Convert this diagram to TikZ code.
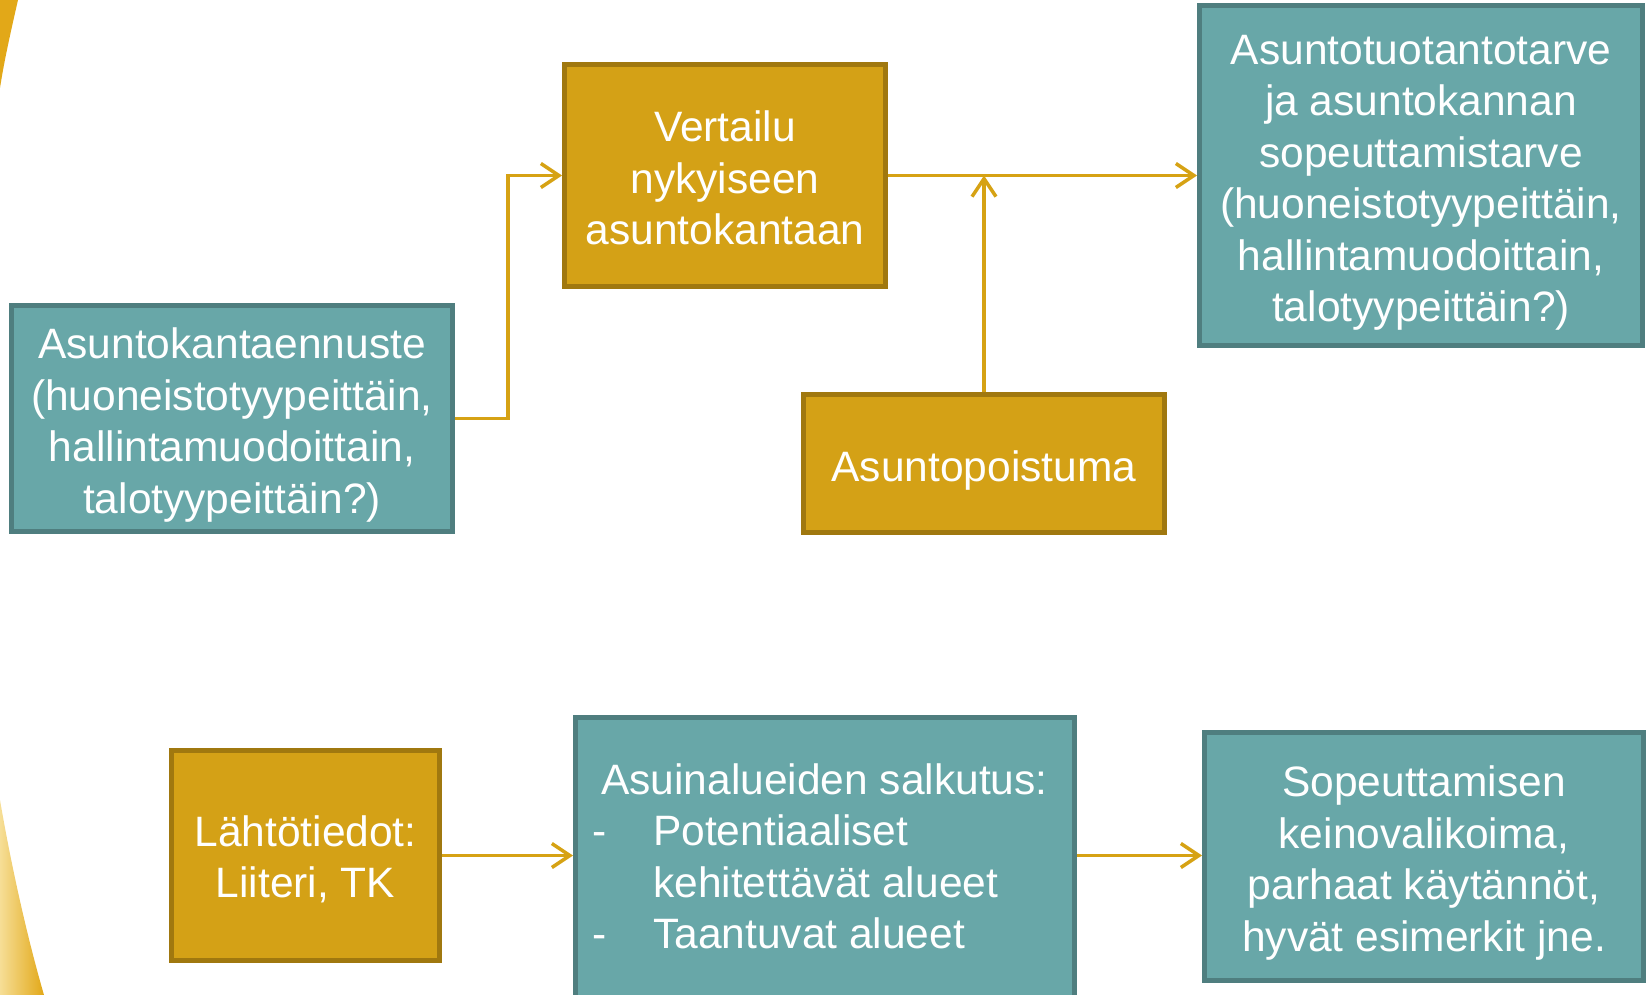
\documentclass[tikz,border=0pt]{standalone}
\usepackage{fontspec}
\setmainfont{Liberation Sans}
\usetikzlibrary{arrows.meta}
\definecolor{tealfill}{RGB}{104,167,168}
\definecolor{tealline}{RGB}{79,126,127}
\definecolor{goldfill}{RGB}{212,161,22}
\definecolor{goldline}{RGB}{160,120,15}
\definecolor{arrowc}{RGB}{214,162,20}
\definecolor{palegold}{RGB}{246,222,150}
\definecolor{swoosh}{RGB}{226,168,24}
\newcommand\toppad[1][44pt]{\rule{0pt}{#1}}
\begin{document}
\begin{tikzpicture}[x=1pt,y=-1pt,
  box/.style={rectangle, line width=5pt, text=white, align=center,
    font=\fontsize{42.5}{51.5}\selectfont, inner sep=0pt},
  tealbox/.style={box, fill=tealfill, draw=tealline},
  goldbox/.style={box, fill=goldfill, draw=goldline},
  conn/.style={draw=arrowc, line width=3.5pt,
    -{Straight Barb[length=18pt,width=24pt,line width=3.5pt]}},
  plaintext/.style={text=white, inner sep=0pt, font=\fontsize{42.5}{51.5}\selectfont}]
\useasboundingbox (0,0) rectangle (1648,995);
\clip (0,0) rectangle (1648,995);
% left decorative swooshes
\fill[swoosh] (0,0) -- (18,0) .. controls (10,35) and (4,62) .. (0,88) -- cycle;
\shade[left color=palegold, right color=swoosh, shading angle=90]
  (0,800) .. controls (12,870) and (28,940) .. (44,995) -- (0,995) -- cycle;
% boxes
\node[tealbox, minimum width=441pt, minimum height=226pt] (ennuste) at (232,418.5)
  {\toppad Asuntokantaennuste\\(huoneistotyypeittäin,\\hallintamuodoittain,\\talotyypeittäin?)};
\node[goldbox, minimum width=321pt, minimum height=222pt] (vert) at (725,175.5)
  {\toppad[36pt]Vertailu\\nykyiseen\\asuntokantaan};
\node[tealbox, minimum width=443pt, minimum height=340pt] (tuot) at (1421,175.5)
  {\toppad Asuntotuotantotarve\\ja asuntokannan\\sopeuttamistarve\\(huoneistotyypeittäin,\\hallintamuodoittain,\\talotyypeittäin?)};
\node[goldbox, minimum width=361pt, minimum height=138pt] (poist) at (984,463.5)
  {\toppad Asuntopoistuma};
\node[goldbox, minimum width=268pt, minimum height=210pt] (lahto) at (305.5,855.5)
  {\toppad[38pt]Lähtötiedot:\\Liiteri, TK};
\node[tealbox, minimum width=499pt, minimum height=292pt] (salk) at (825,863.5) {};
\node[plaintext, anchor=west] (salktxt) at (592,861)
  {\begin{tabular}{@{}p{61pt}@{}l@{}}
   \multicolumn{2}{@{\hspace{9pt}}l@{}}{Asuinalueiden salkutus:}\\
   - & Potentiaaliset\\
     & kehitettävät alueet\\
   - & Taantuvat alueet
   \end{tabular}};
\node[tealbox, minimum width=439pt, minimum height=248pt] (sopeu) at (1424,856.5)
  {\toppad Sopeuttamisen\\keinovalikoima,\\parhaat käytännöt,\\hyvät esimerkit jne.};
% connectors
\draw[conn] (ennuste.east) -- ++(53,0) |- (vert.west);
\draw[conn] (vert.east) -- (tuot.west);
\draw[conn] (poist.north) -- (poist.north |- vert.east);
\draw[conn] (lahto.east) -- (lahto.east -| salk.west);
\draw[conn] (salk.east |- lahto.east) -- (sopeu.west |- lahto.east);
\end{tikzpicture}
\end{document}
